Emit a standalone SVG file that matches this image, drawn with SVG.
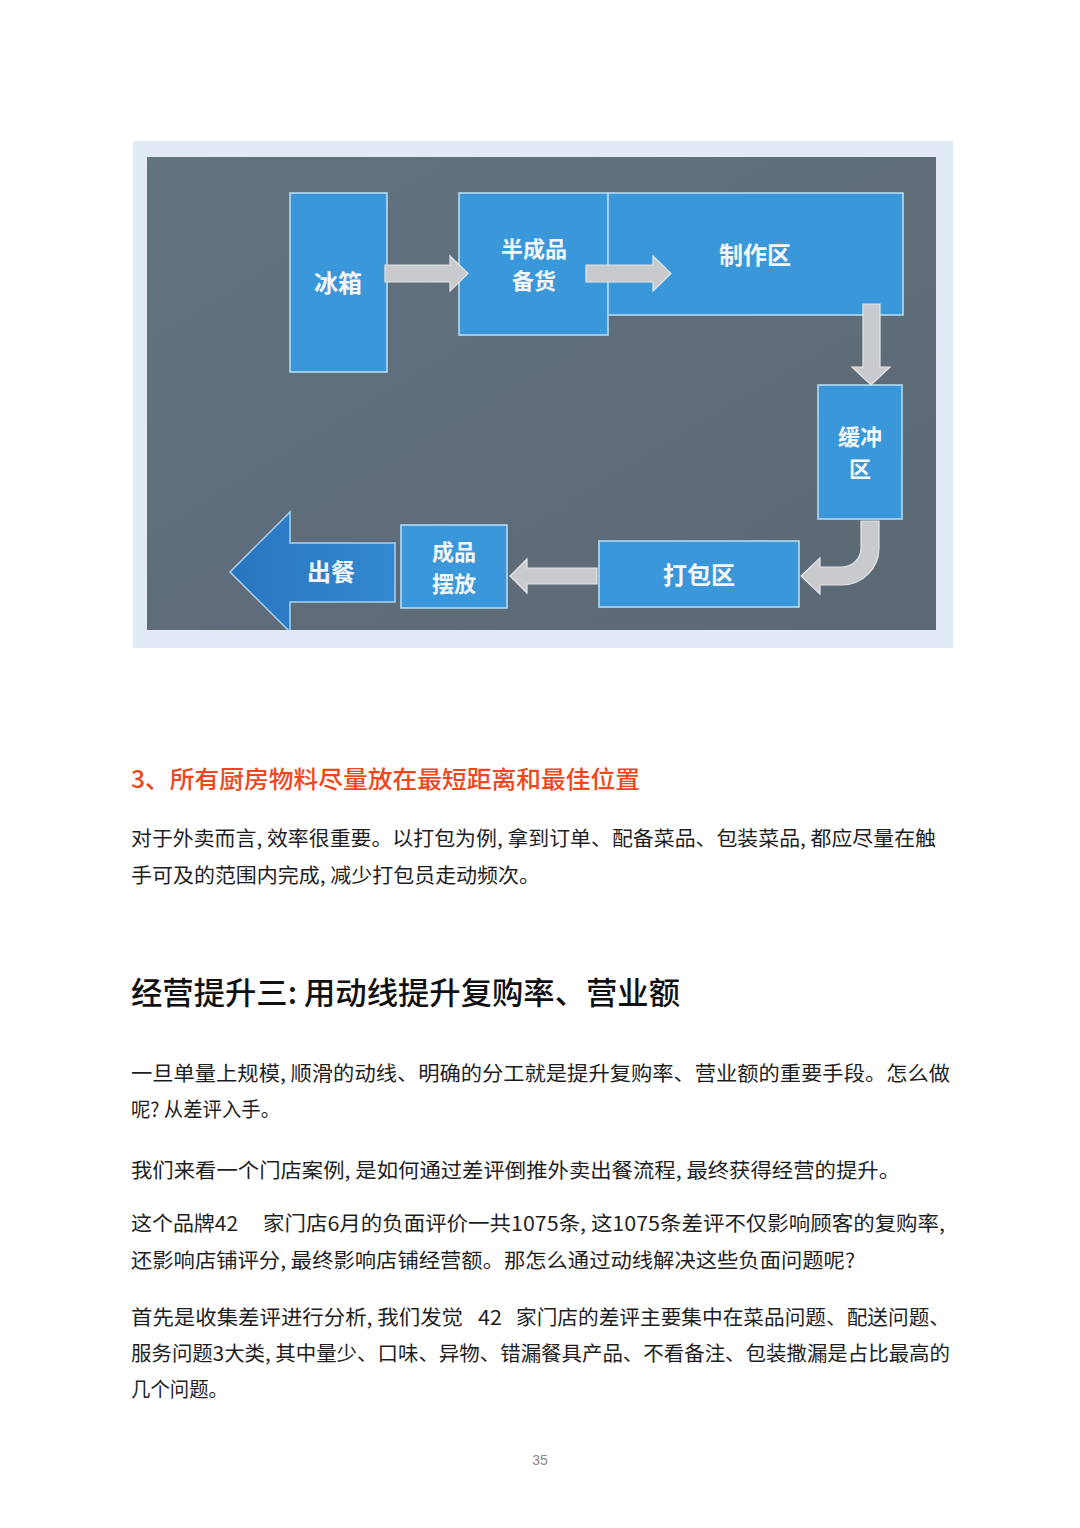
<svg xmlns="http://www.w3.org/2000/svg" width="1080" height="1528" viewBox="0 0 1080 1528">
<style>
.box{fill:#3a97d9;stroke:#b3dbf3;stroke-width:1.6}
.lbl{font-family:"Noto Sans CJK SC","Noto Sans",sans-serif;font-weight:700;font-size:24px;fill:#f4f6f8;text-anchor:middle}
.lbl2{font-family:"Noto Sans CJK SC","Noto Sans",sans-serif;font-weight:700;font-size:22px;fill:#f4f6f8;text-anchor:middle}
.arr{fill:#c8cacd;stroke:#e4e6e8;stroke-width:1.2}
.body{font-family:"Noto Sans CJK SC","Noto Sans",sans-serif;font-size:20px;fill:#1e1e1e}
</style>
<defs>
<linearGradient id="bg" x1="0" y1="0" x2="1" y2="1">
<stop offset="0" stop-color="#627380"/>
<stop offset="0.5" stop-color="#5e6d79"/>
<stop offset="1" stop-color="#5b6974"/>
</linearGradient>
<linearGradient id="out" x1="0" y1="0" x2="1" y2="0">
<stop offset="0" stop-color="#2775c0"/>
<stop offset="1" stop-color="#3389d0"/>
</linearGradient>
</defs>
<rect width="1080" height="1528" fill="#ffffff"/>
<rect x="133" y="141" width="820" height="507" fill="#e2ebf5"/>
<rect x="147" y="157" width="789" height="473" fill="url(#bg)"/>

<g id="node-fridge">
<rect class="box" x="290" y="193" width="97" height="179"/>
<text class="lbl" x="338" y="292">冰箱</text>
</g>
<g id="node-prep">
<rect class="box" x="459" y="193" width="149" height="142"/>
<text class="lbl2" x="534" y="257">半成品<tspan x="534" dy="32">备货</tspan></text>
</g>
<g id="node-make">
<rect class="box" x="608" y="193" width="295" height="122"/>
<text class="lbl" x="755" y="264">制作区</text>
</g>
<g id="node-buffer">
<rect class="box" x="818" y="385" width="84" height="134"/>
<text class="lbl2" x="860" y="445">缓冲<tspan x="860" dy="32">区</tspan></text>
</g>
<g id="node-pack">
<rect class="box" x="599" y="541" width="200" height="66"/>
<text class="lbl" x="699" y="584">打包区</text>
</g>
<g id="node-place">
<rect class="box" x="401" y="525" width="106" height="83"/>
<text class="lbl2" x="454" y="560">成品<tspan x="454" dy="32">摆放</tspan></text>
</g>
<g id="node-out">
<polygon points="395,543 290,543 290,512 230,572 290,632 290,602 395,602" fill="url(#out)" stroke="#a9d3f0" stroke-width="1.5"/>
<rect x="147" y="630" width="300" height="18" fill="#e2ebf5"/>
<text class="lbl" x="331" y="581">出餐</text>
</g>

<g id="connectors">
<polygon class="arr" points="385,265 450,265 450,256 468,273.5 450,291 450,282 385,282"/>
<polygon class="arr" points="586,265 653,265 653,256 671,273.5 653,291 653,282 586,282"/>
<polygon class="arr" points="863,304 880,304 880,367 890,367 871,385 852,367 863,367"/>
<path class="arr" d="M861,521 L879,521 L879,548 A37,37 0 0 1 842,585 L820,585 L820,594 L801,576 L820,558 L820,567 L842,567 A19,19 0 0 0 861,548 Z"/>
<polygon class="arr" points="597,568 527,568 527,559 510,576 527,593 527,584 597,584"/>
</g>

<g id="text">
<text x="131" y="788" font-family="'Noto Sans CJK SC','Noto Sans',sans-serif" font-size="24" font-weight="500" fill="#f0461c" textLength="509" lengthAdjust="spacingAndGlyphs">3、所有厨房物料尽量放在最短距离和最佳位置</text>
<text class="body" x="131" y="846" textLength="805" lengthAdjust="spacingAndGlyphs">对于外卖而言, 效率很重要。以打包为例, 拿到订单、配备菜品、包装菜品, 都应尽量在触</text>
<text class="body" x="131" y="883" textLength="409" lengthAdjust="spacingAndGlyphs">手可及的范围内完成, 减少打包员走动频次。</text>
<text x="131" y="1004" font-family="'Noto Sans CJK SC','Noto Sans',sans-serif" font-size="31" font-weight="500" fill="#111111" textLength="549" lengthAdjust="spacingAndGlyphs">经营提升三: 用动线提升复购率、营业额</text>
<text class="body" x="131" y="1081" textLength="819" lengthAdjust="spacingAndGlyphs">一旦单量上规模, 顺滑的动线、明确的分工就是提升复购率、营业额的重要手段。怎么做</text>
<text class="body" x="131" y="1117" textLength="149" lengthAdjust="spacingAndGlyphs">呢? 从差评入手。</text>
<text class="body" x="131" y="1178" textLength="769" lengthAdjust="spacingAndGlyphs">我们来看一个门店案例, 是如何通过差评倒推外卖出餐流程, 最终获得经营的提升。</text>
<text class="body" x="131" y="1231" textLength="107" lengthAdjust="spacingAndGlyphs">这个品牌42</text>
<text class="body" x="263" y="1231" textLength="682" lengthAdjust="spacingAndGlyphs">家门店6月的负面评价一共1075条, 这1075条差评不仅影响顾客的复购率,</text>
<text class="body" x="131" y="1268" textLength="724" lengthAdjust="spacingAndGlyphs">还影响店铺评分, 最终影响店铺经营额。那怎么通过动线解决这些负面问题呢?</text>
<text class="body" x="131" y="1325" textLength="332" lengthAdjust="spacingAndGlyphs">首先是收集差评进行分析, 我们发觉</text>
<text class="body" x="478" y="1325" textLength="24" lengthAdjust="spacingAndGlyphs">42</text>
<text class="body" x="516" y="1325" textLength="434" lengthAdjust="spacingAndGlyphs">家门店的差评主要集中在菜品问题、配送问题、</text>
<text class="body" x="131" y="1361" textLength="819" lengthAdjust="spacingAndGlyphs">服务问题3大类, 其中量少、口味、异物、错漏餐具产品、不看备注、包装撒漏是占比最高的</text>
<text class="body" x="131" y="1397" textLength="97" lengthAdjust="spacingAndGlyphs">几个问题。</text>
<text x="540" y="1465" font-family="'Liberation Sans',sans-serif" font-size="14" fill="#8a8a8a" text-anchor="middle">35</text>
</g>
</svg>
